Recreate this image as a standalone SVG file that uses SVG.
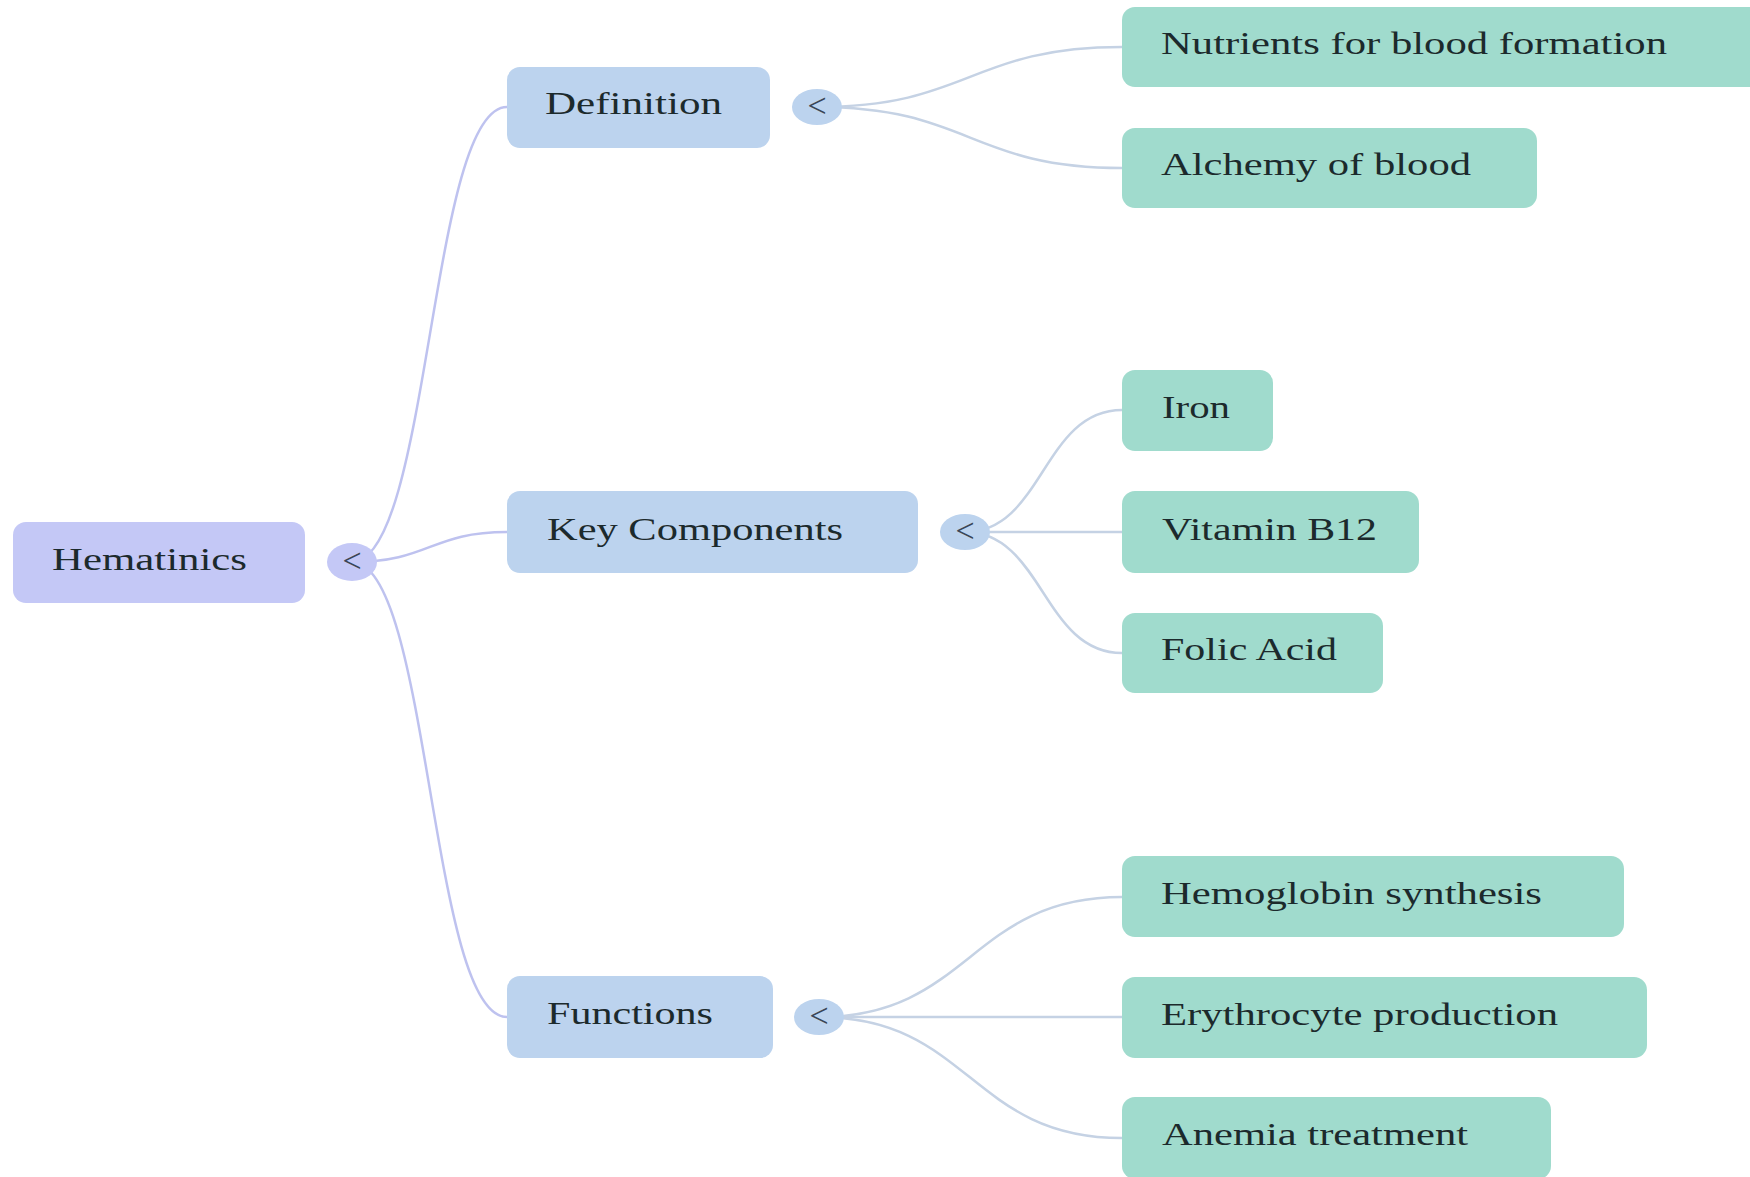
<svg xmlns="http://www.w3.org/2000/svg" width="1750" height="1177" viewBox="0 0 1750 1177">
<style>
  .lbl { font-family: "Liberation Serif", "Times New Roman", serif; font-size: 32px; fill: #1c2a2c; }
  .tog { font-family: "Liberation Serif", "Times New Roman", serif; font-size: 34px; fill: #3a4556; text-anchor: middle; }
  .root rect { fill: #c4c8f6; }
  .l1 rect { fill: #bcd3ee; }
  .leaf rect { fill: #a0dbcd; }
  .c0 { fill: none; stroke: #bec2ef; stroke-width: 2.5; }
  .c1 { fill: none; stroke: #c5d2e4; stroke-width: 2.5; }
</style>
<rect x="0" y="0" width="1750" height="1177" fill="#ffffff"/>
<g id="connectors">
  <path class="c0" d="M352 562 C430 562 430 107 507 107"/>
  <path class="c0" d="M352 562 C430 562 430 532 507 532"/>
  <path class="c0" d="M352 562 C430 562 430 1017 507 1017"/>
  <path class="c1" d="M817 107 C970 107 970 47 1122 47"/>
  <path class="c1" d="M817 107 C970 107 970 168 1122 168"/>
  <path class="c1" d="M965 532 C1043 532 1043 410 1122 410"/>
  <path class="c1" d="M965 532 L1122 532"/>
  <path class="c1" d="M965 532 C1043 532 1043 653 1122 653"/>
  <path class="c1" d="M819 1017 C970 1017 970 897 1122 897"/>
  <path class="c1" d="M819 1017 L1122 1017"/>
  <path class="c1" d="M819 1017 C970 1017 970 1138 1122 1138"/>
</g>
<g id="node-hematinics" class="root">
  <rect x="13" y="522" width="292" height="81" rx="13"/>
  <text class="lbl" x="52" y="570" textLength="195" lengthAdjust="spacingAndGlyphs">Hematinics</text>
  <ellipse cx="352" cy="562" rx="25" ry="19" fill="#c4c8f6"/>
  <text class="tog" x="352" y="572">&lt;</text>
</g>
<g id="node-definition" class="l1">
  <rect x="507" y="67" width="263" height="81" rx="13"/>
  <text class="lbl" x="545" y="114" textLength="177" lengthAdjust="spacingAndGlyphs">Definition</text>
  <ellipse cx="817" cy="107" rx="25" ry="18" fill="#bcd3ee"/>
  <text class="tog" x="817" y="117">&lt;</text>
</g>
<g id="node-key-components" class="l1">
  <rect x="507" y="491" width="411" height="82" rx="13"/>
  <text class="lbl" x="547" y="540" textLength="296" lengthAdjust="spacingAndGlyphs">Key Components</text>
  <ellipse cx="965" cy="532" rx="25" ry="18" fill="#bcd3ee"/>
  <text class="tog" x="965" y="542">&lt;</text>
</g>
<g id="node-functions" class="l1">
  <rect x="507" y="976" width="266" height="82" rx="13"/>
  <text class="lbl" x="547" y="1024" textLength="166" lengthAdjust="spacingAndGlyphs">Functions</text>
  <ellipse cx="819" cy="1017" rx="25" ry="18" fill="#bcd3ee"/>
  <text class="tog" x="819" y="1027">&lt;</text>
</g>
<g id="node-nutrients" class="leaf">
  <rect x="1122" y="7" width="640" height="80" rx="13"/>
  <text class="lbl" x="1161" y="54" textLength="506" lengthAdjust="spacingAndGlyphs">Nutrients for blood formation</text>
</g>
<g id="node-alchemy" class="leaf">
  <rect x="1122" y="128" width="415" height="80" rx="13"/>
  <text class="lbl" x="1161" y="175" textLength="310" lengthAdjust="spacingAndGlyphs">Alchemy of blood</text>
</g>
<g id="node-iron" class="leaf">
  <rect x="1122" y="370" width="151" height="81" rx="13"/>
  <text class="lbl" x="1162" y="418" textLength="68" lengthAdjust="spacingAndGlyphs">Iron</text>
</g>
<g id="node-vitamin-b12" class="leaf">
  <rect x="1122" y="491" width="297" height="82" rx="13"/>
  <text class="lbl" x="1162" y="540" textLength="215" lengthAdjust="spacingAndGlyphs">Vitamin B12</text>
</g>
<g id="node-folic-acid" class="leaf">
  <rect x="1122" y="613" width="261" height="80" rx="13"/>
  <text class="lbl" x="1161" y="660" textLength="176" lengthAdjust="spacingAndGlyphs">Folic Acid</text>
</g>
<g id="node-hemoglobin" class="leaf">
  <rect x="1122" y="856" width="502" height="81" rx="13"/>
  <text class="lbl" x="1161" y="904" textLength="381" lengthAdjust="spacingAndGlyphs">Hemoglobin synthesis</text>
</g>
<g id="node-erythrocyte" class="leaf">
  <rect x="1122" y="977" width="525" height="81" rx="13"/>
  <text class="lbl" x="1161" y="1025" textLength="397" lengthAdjust="spacingAndGlyphs">Erythrocyte production</text>
</g>
<g id="node-anemia" class="leaf">
  <rect x="1122" y="1097" width="429" height="82" rx="13"/>
  <text class="lbl" x="1162" y="1145" textLength="306" lengthAdjust="spacingAndGlyphs">Anemia treatment</text>
</g>
</svg>
